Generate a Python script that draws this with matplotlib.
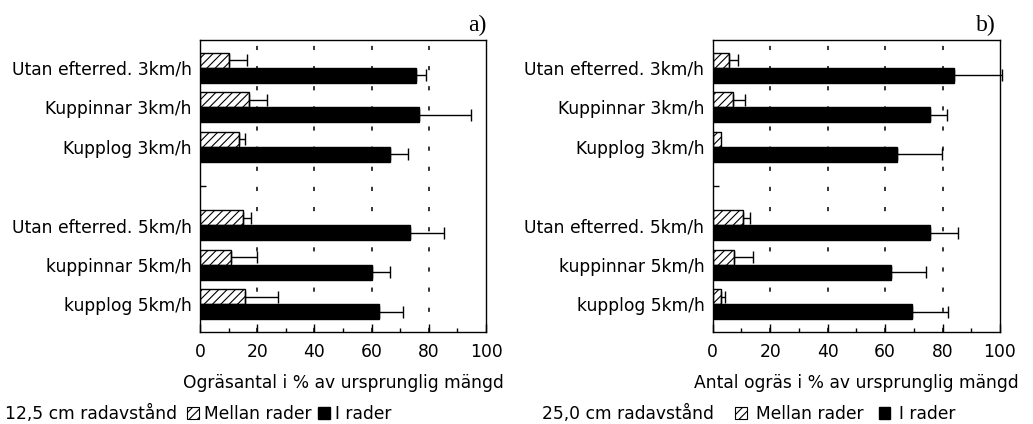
import numpy as np
import matplotlib
matplotlib.use("Agg")
import matplotlib.pyplot as plt
from matplotlib.patches import Patch

plt.rcParams["font.family"] = "DejaVu Sans"
plt.rcParams["hatch.linewidth"] = 0.8
plt.rcParams["lines.scale_dashes"] = False

categories = ["Utan efterred. 3km/h", "Kuppinnar 3km/h", "Kupplog 3km/h",
              "Utan efterred. 5km/h", "kuppinnar 5km/h", "kupplog 5km/h"]
positions = [0, 1, 2, 4, 5, 6]

# a) 12,5 cm radavstand
a_mellan = [10.2, 17.1, 13.7, 15.1, 10.7, 15.7]
a_mellan_err = [6.1, 6.5, 2.1, 2.7, 9.4, 11.6]
a_irader = [75.6, 76.5, 66.3, 73.3, 60.3, 62.6]
a_irader_err = [3.3, 18.4, 6.4, 12.0, 6.0, 8.4]

# b) 25,0 cm radavstand
b_mellan = [5.7, 7.2, 2.9, 10.6, 7.5, 2.8]
b_mellan_err = [3.2, 4.0, 0.0, 2.4, 6.4, 1.5]
b_irader = [83.9, 75.5, 64.1, 75.8, 62.2, 69.4]
b_irader_err = [16.8, 6.1, 15.6, 9.5, 11.9, 12.4]

xticks = [0, 20, 40, 60, 80, 100]

fig = plt.figure(figsize=(10.33, 4.24), dpi=100)
ax_a = fig.add_axes([0.1936, 0.217, 0.2769, 0.689])
ax_b = fig.add_axes([0.690, 0.217, 0.278, 0.689])

h = 0.38


def draw_panel(ax, mellan, mellan_err, irader, irader_err, xlabel, tag, tag_x):
    pos = np.array(positions, dtype=float)
    for x in xticks[1:-1]:
        ax.axvline(x, color="k", lw=1.1, dashes=(3, 11.5), zorder=0)
    ax.barh(pos - h / 2, mellan, height=h, color="white", edgecolor="k",
            hatch="////", lw=1.0, zorder=2)
    ax.barh(pos + h / 2, irader, height=h, color="k", edgecolor="k", zorder=2)

    me = np.array(mellan_err)
    m = me > 0
    eb1 = ax.errorbar(np.array(mellan)[m], (pos - h / 2)[m],
                      xerr=[np.zeros(m.sum()), me[m]], fmt="none", ecolor="k",
                      elinewidth=1.0, capsize=4, capthick=1.0, zorder=3)
    eb2 = ax.errorbar(irader, pos + h / 2, xerr=[np.zeros(len(irader)), irader_err],
                      fmt="none", ecolor="k", elinewidth=1.0, capsize=4,
                      capthick=1.0, zorder=3)
    for eb in (eb1, eb2):
        for art in eb.lines[1] + eb.lines[2]:
            art.set_clip_on(False)

    ax.set_xlim(0, 100)
    ax.set_ylim(6.71, -0.71)
    ax.set_xticks(xticks)
    ax.set_xticks([10, 30, 50, 70, 90], minor=True)
    ax.set_yticks(range(7))
    ax.set_yticklabels(categories[:3] + [""] + categories[3:])
    ax.tick_params(axis="x", direction="in", length=6, width=1, labelsize=12.3, pad=8)
    ax.tick_params(axis="x", which="minor", direction="in", length=3, width=1)
    ax.tick_params(axis="y", direction="in", length=4, width=1, labelsize=12.3, pad=6)
    ax.set_xlabel(xlabel, fontsize=12.3, labelpad=9)
    for s in ax.spines.values():
        s.set_linewidth(1.0)
    ax.text(tag_x, 1.012, tag, transform=ax.transAxes, ha="right", va="bottom",
            fontsize=17, family="Liberation Serif")


draw_panel(ax_a, a_mellan, a_mellan_err, a_irader, a_irader_err,
           "Ogräsantal i % av ursprunglig mängd", "a)", 1.0)
draw_panel(ax_b, b_mellan, b_mellan_err, b_irader, b_irader_err,
           "Antal ogräs i % av ursprunglig mängd", "b)", 0.985)

handles = [Patch(facecolor="white", edgecolor="k", hatch="////", lw=0.8),
           Patch(facecolor="k", edgecolor="k")]
labels = ["Mellan rader", "I rader"]

fig.text(5 / 1033, 5 / 424, "12,5 cm radavstånd", fontsize=12.3, va="baseline")
fig.text(542 / 1033, 5 / 424, "25,0 cm radavstånd", fontsize=12.3, va="baseline")
fig.legend(handles, labels, loc="lower left", bbox_to_anchor=(187 / 1033, 1 / 424),
           ncol=2, frameon=False, fontsize=12.3, handlelength=0.7,
           handleheight=0.7, handletextpad=0.3, columnspacing=0.35,
           borderpad=0, borderaxespad=0)
fig.legend(handles, labels, loc="lower left", bbox_to_anchor=(735 / 1033, 1 / 424),
           ncol=2, frameon=False, fontsize=12.3, handlelength=0.7,
           handleheight=0.7, handletextpad=0.5, columnspacing=0.9,
           borderpad=0, borderaxespad=0)

fig.savefig("out.png", dpi=100)
